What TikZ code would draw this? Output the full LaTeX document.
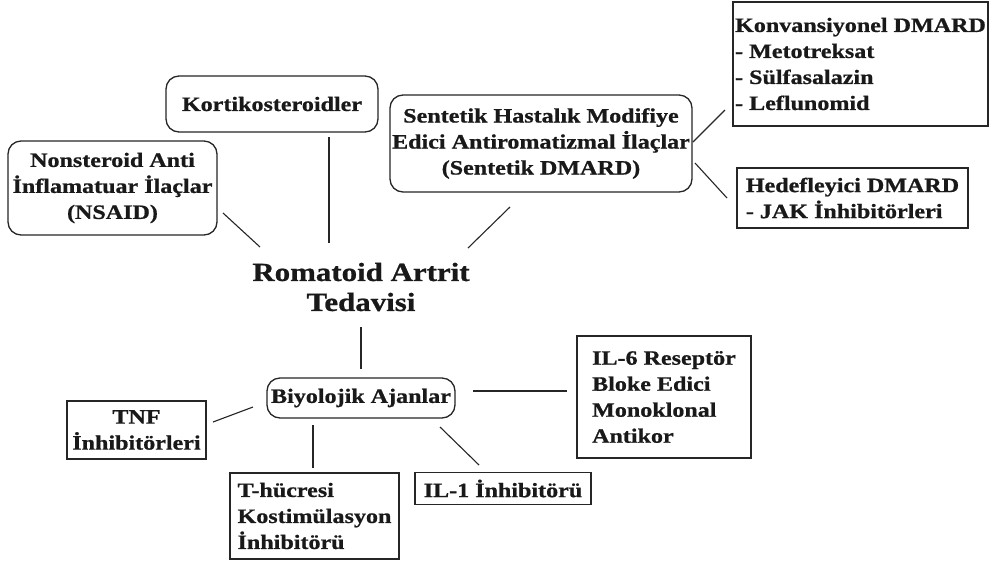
\documentclass[tikz,border=0pt]{standalone}
\usepackage{fontspec}
\setmainfont{Liberation Serif}[FakeStretch=1.18,FakeBold=0.8]
\begin{document}
\begin{tikzpicture}[x=1pt,y=-1pt,
  every node/.style={font=\bfseries\fontsize{20.4}{26}\selectfont, text=black!90, inner sep=0pt},
  rbox/.style={draw=black!85, line width=1.3pt, rounded corners=13pt, align=center},
  sbox/.style={draw=black!85, line width=1.3pt, align=left},
  cbox/.style={draw=black!85, line width=1.3pt, align=center},
  conn/.style={draw=black!85, line width=1.1pt}]
\useasboundingbox[fill=white] (0,0) rectangle (989,566);

% nodes
\node[font=\bfseries\fontsize{26.2}{30}\selectfont, align=center] (title) at (361,287) {Romatoid Artrit\\Tedavisi};
\node[rbox, minimum width=212pt, minimum height=56pt] (kort) at (272,104) {Kortikosteroidler};
\node[rbox, minimum width=209pt, minimum height=94pt] (nsaid) at (112.5,188) {Nonsteroid Anti\\İnflamatuar İlaçlar\\(NSAID)};
\node[rbox, minimum width=302pt, minimum height=97pt] (sent) at (541,143.5) {Sentetik Hastalık Modifiye\\Edici Antiromatizmal İlaçlar\\(Sentetik DMARD)};
\node[sbox, minimum width=255pt, minimum height=124pt] (konv) at (860.5,64) {Konvansiyonel DMARD\\- Metotreksat\\- Sülfasalazin\\- Leflunomid};
\node[sbox, minimum width=231pt, minimum height=60pt] (hedef) at (852.5,198) {Hedefleyici DMARD\\- JAK İnhibitörleri};
\node[rbox, minimum width=188pt, minimum height=40pt] (biyo) at (361,398) {Biyolojik Ajanlar};
\node[sbox, minimum width=174pt, minimum height=122pt] (il6) at (664,397) {IL-6 Reseptör\\Bloke Edici\\Monoklonal\\Antikor};
\node[cbox, minimum width=139pt, minimum height=58pt] (tnf) at (136.5,430) {TNF\\İnhibitörleri};
\node[sbox, minimum width=169pt, minimum height=86pt] (thuc) at (314.5,516) {T-hücresi\\Kostimülasyon\\İnhibitörü};
\node[cbox, minimum width=176pt, minimum height=32pt] (il1) at (503,488.5) {IL-1 İnhibitörü};

% connector end points
\coordinate (nsaid-e) at (223,213); \coordinate (title-nw) at (260,247);
\coordinate (kort-s) at (329,137);  \coordinate (title-n) at (329,243);
\coordinate (sent-s) at (510,207);  \coordinate (title-ne) at (468,248);
\coordinate (sent-e1) at (693,142); \coordinate (konv-w) at (725,110);
\coordinate (sent-e2) at (695,163); \coordinate (hedef-w) at (727,198);
\coordinate (title-s) at (361,327); \coordinate (biyo-n) at (361,369);
\coordinate (tnf-e) at (213,422);   \coordinate (biyo-w) at (253,407);
\coordinate (biyo-s) at (313,425);  \coordinate (thuc-n) at (313,468);
\coordinate (biyo-se) at (440,427); \coordinate (il1-n) at (479,465);
\coordinate (biyo-e) at (473,391);  \coordinate (il6-w) at (567,391);

% connectors
\draw[conn] (nsaid-e) -- (title-nw);
\draw[conn] (kort-s) -- (title-n);
\draw[conn] (sent-s) -- (title-ne);
\draw[conn] (sent-e1) -- (konv-w);
\draw[conn] (sent-e2) -- (hedef-w);
\draw[conn] (title-s) -- (biyo-n);
\draw[conn] (tnf-e) -- (biyo-w);
\draw[conn] (biyo-s) -- (thuc-n);
\draw[conn] (biyo-se) -- (il1-n);
\draw[conn] (biyo-e) -- (il6-w);
\end{tikzpicture}
\end{document}
